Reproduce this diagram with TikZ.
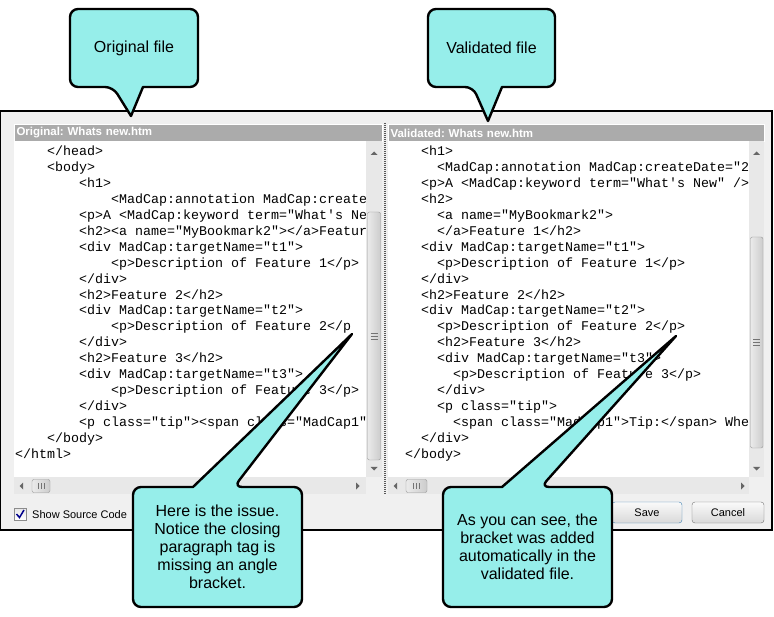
\documentclass[tikz,border=0pt]{standalone}
\usepackage{fontspec}
\setmainfont{Liberation Sans}
\setmonofont{Liberation Mono}
\usepackage{tikz}
\usetikzlibrary{positioning, calc}
\definecolor{calloutcyan}{RGB}{150, 238, 234}
\definecolor{dlggray}{RGB}{240, 240, 240}
\definecolor{hdrgray}{RGB}{171, 171, 171}
\definecolor{trackgray}{RGB}{232, 232, 232}
\definecolor{thumbline}{RGB}{151, 151, 151}
\definecolor{focusblue}{RGB}{60, 127, 177}

\begin{document}
\frenchspacing
\begin{tikzpicture}[x=1pt, y=-1pt,
  code/.style={anchor=base west, inner sep=0pt, font=\ttfamily\fontsize{13.33}{16}\selectfont},
  hdr/.style={fill=hdrgray, draw=white, line width=1pt, anchor=north west, minimum height=17pt, inner xsep=2pt, inner ysep=0pt, text=white, align=left, font=\bfseries\fontsize{11.5}{13}\selectfont},
  thumb/.style={draw=thumbline, left color=white!92!black, right color=white!80!black, rounded corners=2pt},
  grip/.style={draw=black!55, line width=0.8pt},
  sarrow/.style={fill=black!60},
  btn/.style={rounded corners=3pt, minimum width=70pt, minimum height=21pt, top color=white!98!black, bottom color=white!85!black, font=\fontsize{11}{13}\selectfont},
  callout/.style={fill=calloutcyan, draw=black, line width=2.4pt, line join=round},
  calltext/.style={align=center, font=\fontsize{16}{18}\selectfont}
]
  \useasboundingbox (0,0) rectangle (774,617);
  \fill[white] (0,0) rectangle (774,617);

  \draw[line width=1.3pt, fill=dlggray] (0.7,111) rectangle (772,530);

  \node[hdr, text width=364pt] (orighdr) at (14,124) {Original: Whats new.htm};
  \node[hdr, text width=372pt] (validhdr) at (388,124) {Validated: Whats new.htm};

  \fill[white] (14,141) rectangle (366,477);
  \fill[white] (388,141) rectangle (749,477);

  \begin{scope}
    \clip (14,141) rectangle (366,477);
    \foreach \ind/\txt [count=\n from 0] in {4/{</head>},4/{<body>},8/{<h1>},
      12/{<MadCap:annotation MadCap:create},8/{<p>A <MadCap:keyword term="What's Ne},
      8/{<h2><a name="MyBookmark2"></a>Featur},8/{<div MadCap:targetName="t1">},
      12/{<p>Description of Feature 1</p>},8/{</div>},8/{<h2>Feature 2</h2>},
      8/{<div MadCap:targetName="t2">},12/{<p>Description of Feature 2</p},8/{</div>},
      8/{<h2>Feature 3</h2>},8/{<div MadCap:targetName="t3">},
      12/{<p>Description of Feature 3</p>},8/{</div>},
      8/{<p class="tip"><span class="MadCap1"},4/{</body>},0/{</html>}}
      \node[code] at (15+8*\ind, 156+15.9*\n) {\txt};
  \end{scope}

  \begin{scope}
    \clip (388,141) rectangle (749,477);
    \foreach \ind/\txt [count=\n from 0] in {4/{<h1>},6/{<MadCap:annotation MadCap:createDate="2},
      4/{<p>A <MadCap:keyword term="What's New" />},4/{<h2>},6/{<a name="MyBookmark2">},
      6/{</a>Feature 1</h2>},4/{<div MadCap:targetName="t1">},
      6/{<p>Description of Feature 1</p>},4/{</div>},4/{<h2>Feature 2</h2>},
      4/{<div MadCap:targetName="t2">},6/{<p>Description of Feature 2</p>},
      6/{<h2>Feature 3</h2>},6/{<div MadCap:targetName="t3">},
      8/{<p>Description of Feature 3</p>},6/{</div>},6/{<p class="tip">},
      8/{<span class="MadCap1">Tip:</span> Whe},4/{</div>},2/{</body>}}
      \node[code] at (389+8*\ind, 156+15.9*\n) {\txt};
  \end{scope}

  \fill[trackgray] (366,141) rectangle (382,477);
  \draw[thumb] (367.5,212) rectangle (380.5,460);
  \foreach \g in {-3,0,3} \draw[grip] (370.5,336+\g) -- (377.5,336+\g);
  \fill[sarrow] (370.5,155) -- (377.5,155) -- (374,151.5) -- cycle;
  \fill[sarrow] (370.5,467) -- (377.5,467) -- (374,470.5) -- cycle;
  \fill[trackgray] (14,477) rectangle (366,494);
  \draw[thumb] (32,479.5) rectangle (50,492.5);
  \foreach \g in {-3,0,3} \draw[grip] (41+\g,483) -- (41+\g,489);
  \fill[sarrow] (23,482.5) -- (23,489.5) -- (19.5,486) -- cycle;
  \fill[sarrow] (356,482.5) -- (356,489.5) -- (359.5,486) -- cycle;

  \fill[trackgray] (749,141) rectangle (764,477);
  \draw[thumb] (750.5,237) rectangle (763,448);
  \foreach \g in {-3,0,3} \draw[grip] (753,342+\g) -- (760,342+\g);
  \fill[sarrow] (753,155) -- (760,155) -- (756.5,151.5) -- cycle;
  \fill[sarrow] (753,467) -- (760,467) -- (756.5,470.5) -- cycle;
  \fill[trackgray] (388,477) rectangle (749,494);
  \draw[thumb] (406,479.5) rectangle (427,492.5);
  \foreach \g in {-3,0,3} \draw[grip] (416.5+\g,483) -- (416.5+\g,489);
  \fill[sarrow] (397,482.5) -- (397,489.5) -- (393.5,486) -- cycle;
  \fill[sarrow] (741,482.5) -- (741,489.5) -- (744.5,486) -- cycle;

  \draw[black!65, line width=1.5pt, dash pattern=on 1pt off 1pt] (385,123) -- (385,494);

  \draw[draw=black!45, top color=white!90!black, bottom color=white] (14,508) rectangle (26,520);
  \draw[draw=blue!55!black, line width=1.5pt] (16.5,514) -- (19.5,517.5) -- (24,510);
  \node[anchor=base west, inner sep=0pt, font=\fontsize{11}{13}\selectfont] (showsrc) at (32,518) {Show Source Code};

  \node[btn, draw=focusblue] (save) at (647,512.5) {Save};
  \node[btn, draw=black!55, minimum width=72pt] (cancel) at (728,512.5) {Cancel};

  \coordinate (origtip) at (131,116);
  \coordinate (validtip) at (488,121);
  \coordinate (issuetip) at (352,334);
  \coordinate (fixtip) at (676,336);

  \draw[callout] (113,87) [sharp corners] -- (origtip) -- (143,87) [rounded corners=8pt] -- (198,87) -- (198,9) -- (70,9) -- (70,87) -- cycle;
  \node[calltext] (orig) at (134,48) {Original file};

  \draw[callout] (473,87) [sharp corners] -- (validtip) -- (502,87) [rounded corners=8pt] -- (555,87) -- (555,9) -- (428,9) -- (428,87) -- cycle;
  \node[calltext] (valid) at (491.5,48) {Validated file};

  \draw[callout] (234,487) [sharp corners] -- (issuetip) -- (193,487) [rounded corners=8pt] -- (133,487) -- (133,607) -- (302,607) -- (302,487) -- cycle;
  \node[calltext] (issue) at (217.5,547) {Here is the issue.\\Notice the closing\\paragraph tag is\\missing an angle\\bracket.};

  \draw[callout] (541,487) [sharp corners] -- (fixtip) -- (502,487) [rounded corners=8pt] -- (443,487) -- (443,607) -- (612,607) -- (612,487) -- cycle;
  \node[calltext] (fix) at (527.5,547) {As you can see, the\\bracket was added\\automatically in the\\validated file.};
\end{tikzpicture}
\end{document}
